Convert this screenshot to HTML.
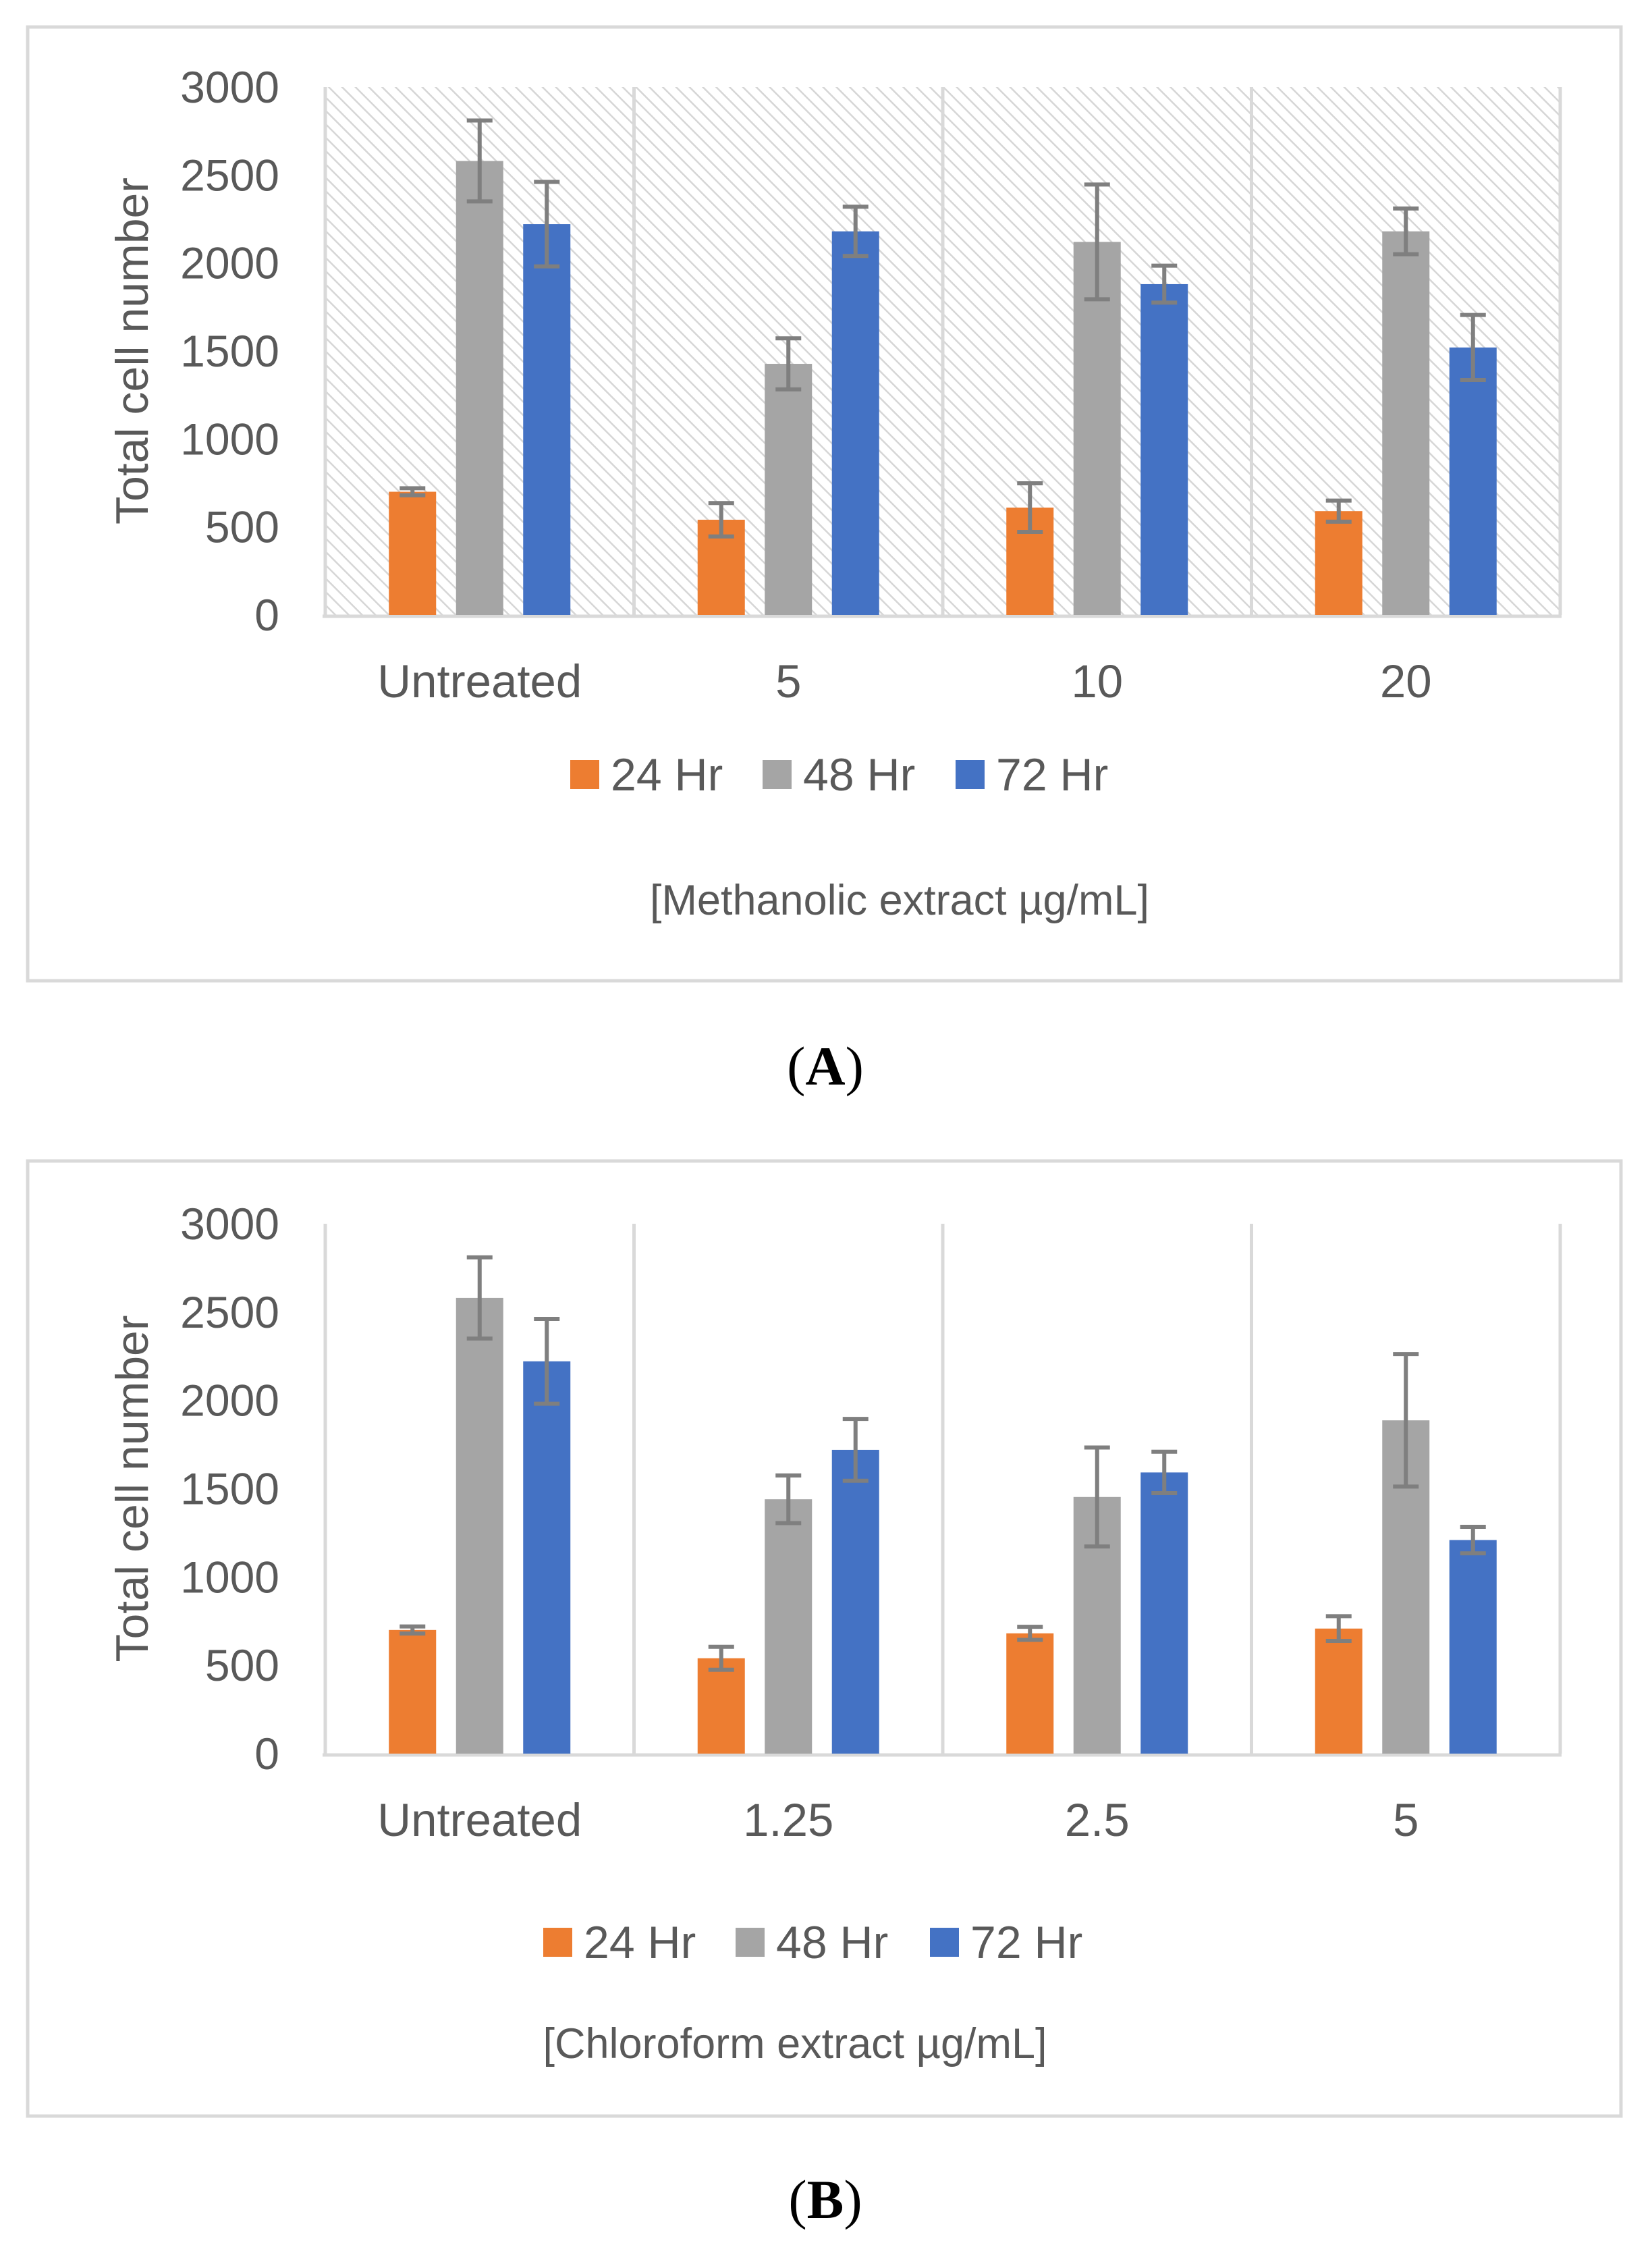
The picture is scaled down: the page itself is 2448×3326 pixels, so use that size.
<!DOCTYPE html>
<html><head><meta charset="utf-8"><style>
html,body{margin:0;padding:0;background:#fff;}
body{width:2448px;height:3326px;position:relative;overflow:hidden;font-family:"Liberation Sans",sans-serif;}
svg{position:absolute;left:0;top:0;}
</style></head><body>
<svg id="fig" width="2448" height="3326">
<defs>
<pattern id="hatch" patternUnits="userSpaceOnUse" width="14" height="14" patternTransform="rotate(-45)">
<rect width="14" height="14" fill="#fff"/>
<line x1="0" y1="0" x2="0" y2="14" stroke="#d6d6d6" stroke-width="5"/>
</pattern>
</defs>
</svg>
<script>
var categoriesA = ["Untreated","5","10","20"];
var categoriesB = ["Untreated","1.25","2.5","5"];
var seriesNames = ["24 Hr","48 Hr","72 Hr"];
var a24 = [700,541,610,590];
var a48 = [2580,1427,2120,2180];
var a72 = [2221,2180,1880,1520];
var a24err = [20,95,138,60];
var a48err = [230,145,326,130];
var a72err = [240,140,105,185];
var b24 = [700,540,681,708];
var b48 = [2580,1440,1453,1887];
var b72 = [2221,1720,1592,1209];
var b24err = [20,65,37,70];
var b48err = [230,135,280,375];
var b72err = [240,175,117,75];
var yTicks = [0,500,1000,1500,2000,2500,3000];

var svg = document.getElementById('fig');
var NS = 'http://www.w3.org/2000/svg';
var colors = ['#ed7d31','#a5a5a5','#4472c4'];
function mk(tag, attrs, parent){var e=document.createElementNS(NS,tag);for(var k in attrs)e.setAttribute(k,attrs[k]);(parent||svg).appendChild(e);return e;}

function chart(opt){
  var g = mk('g',{});
  
  
  var box = mk('rect',{x:opt.bx,y:opt.by,width:opt.bw,height:opt.bh,fill:'#fff',stroke:'#d9d9d9','stroke-width':5},g);
  
  
  var L=482, R=2312, y0=opt.y0, y1=opt.y1;
  var gw=(R-L)/opt.cats.length;
  function ys(v){return y0-(v/3000)*(y0-y1);}
  function xs(i,s){return L+gw*i+gw/2+(s-1)*99.5;}
  var plot = mk('rect',{x:L,y:y1,width:R-L,height:y0-y1,fill:opt.hatch?'url(#hatch)':'#fff'},g);
  
  
  for(var i=0;i<=opt.cats.length;i++){
    var gl = mk('line',{x1:L+gw*i,x2:L+gw*i,y1:y1,y2:y0,stroke:'#d9d9d9','stroke-width':5},g);
    
    
  }
  var ax = mk('line',{x1:L-4,x2:R+2,y1:y0+2,y2:y0+2,stroke:'#d9d9d9','stroke-width':5},g);
  
  
  yTicks.forEach(function(t){
    var tx = mk('text',{x:414,y:ys(t)+23,'text-anchor':'end','font-size':66,fill:'#595959'},g);
    tx.textContent=t;
    
    
  });
  var yt = mk('text',{x:0,y:0,'text-anchor':'middle','font-size':68,fill:'#595959',transform:'translate(219,'+((y0+y1)/2)+') rotate(-90)'},g);
  yt.textContent='Total cell number';
  
  
  opt.cats.forEach(function(c,i){
    var t = mk('text',{x:L+gw*i+gw/2,y:y0+122,'text-anchor':'middle','font-size':69,fill:'#595959'},g);
    t.textContent=c;
    
    
  });
  for(var s=0;s<3;s++){
    var vals=opt.vals[s], errs=opt.errs[s];
    for(var i=0;i<vals.length;i++){
      var cx=xs(i,s);
      var b = mk('rect',{x:cx-35,y:ys(vals[i]),width:70,height:y0-ys(vals[i]),fill:colors[s]},g);
      
      
      var ht=ys(vals[i]+errs[i]), hb=ys(vals[i]-errs[i]);
      var e = mk('path',{d:'M'+(cx-19)+' '+ht+'H'+(cx+19)+'M'+cx+' '+ht+'V'+hb+'M'+(cx-19)+' '+hb+'H'+(cx+19),stroke:'#7f7f7f','stroke-width':6,fill:'none'},g);
      
      
    }
  }
  for(var s=0;s<3;s++){
    var lx=opt.legX[s];
    var sq = mk('rect',{x:lx,y:opt.legY-21,width:43,height:43,fill:colors[s]},g);
    
    
    var lt = mk('text',{x:lx+60,y:opt.legY+24,'font-size':68,fill:'#595959'},g);
    lt.textContent=seriesNames[s];
    
    
  }
  var xt = mk('text',{x:opt.titleX,y:opt.titleY+22,'text-anchor':'middle','font-size':63,fill:'#595959'},g);
  xt.textContent=opt.title;
  
  
  var pl = mk('text',{x:1223,y:opt.panelY+28,'text-anchor':'middle','font-size':82,'font-family':'Liberation Serif, serif',fill:'#000'},g);
  pl.innerHTML='(<tspan font-weight="bold">'+opt.panel+'</tspan>)';
  
  
}
chart({name:'chart-a',bx:41,by:40,bw:2361,bh:1413,y0:911,y1:129,hatch:true,cats:categoriesA,
  vals:[a24,a48,a72],errs:[a24err,a48err,a72err],legX:[845,1130,1416],legY:1147,
  title:'[Methanolic extract \u00b5g/mL]',titleX:1333,titleY:1333,panel:'A',panelY:1579});
chart({name:'chart-b',bx:41,by:1720,bw:2361,bh:1415,y0:2598,y1:1813,hatch:false,cats:categoriesB,
  vals:[b24,b48,b72],errs:[b24err,b48err,b72err],legX:[805,1090,1378],legY:2877,
  title:'[Chloroform extract \u00b5g/mL]',titleX:1178,titleY:3027,panel:'B',panelY:3258});
</script>
</body></html>
